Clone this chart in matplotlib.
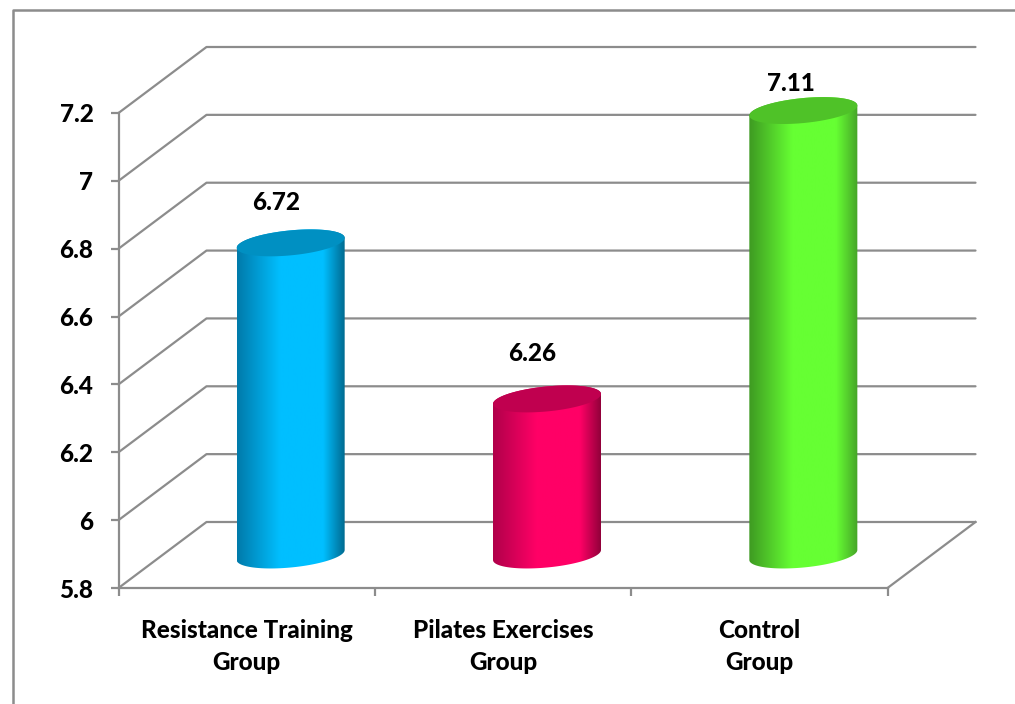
import matplotlib
matplotlib.use('Agg')
import matplotlib.pyplot as plt
import numpy as np
from matplotlib.colors import LinearSegmentedColormap
from matplotlib.lines import Line2D
from matplotlib.patches import PathPatch, Polygon
from matplotlib.path import Path

plt.rcParams['font.family'] = 'Lato'

# Values
categories = ['Resistance Training\nGroup', 'Pilates Exercises\nGroup', 'Control\nGroup']
values = [6.72, 6.26, 7.11]
value_labels = ['6.72', '6.26', '7.11']
y_ticks = [5.8, 6, 6.2, 6.4, 6.6, 6.8, 7, 7.2]
y_tick_labels = ['5.8', '6', '6.2', '6.4', '6.6', '6.8', '7', '7.2']

# (left edge, light middle, right edge, top face)
bar_colors = [
    ('#007AAA', '#00BFFF', '#006A90', '#0090C2'),
    ('#B0004A', '#FF0066', '#8C0038', '#C0004F'),
    ('#3E9A22', '#66FF33', '#46A428', '#4FC228'),
]
label_offsets = [(-15, 40), (-15, 45), (-12, 27)]  # pixels from the top face centre

GRAY = '#8C8C8C'
WEIGHT = 'black'
FONT_SIZE = 17.5
W, H = 1015, 704

fig = plt.figure(figsize=(W / 100, H / 100), dpi=100)
ax = fig.add_axes([118.5 / W, (H - 588) / H, 769 / W, 475 / H])
ax.set_xlim(0, 3)
ax.set_ylim(5.8, 7.2)

# size of one pixel in data units, and the depth of the 3D box
px_x = 3 / 769
px_y = 1.4 / 475
depth_x = 88 * px_x
depth_y = 66 * px_y

# back wall gridlines and the floor
for v in y_ticks:
    ax.plot([0, depth_x, 3 + depth_x], [v, v + depth_y, v + depth_y],
            color=GRAY, lw=1.6, clip_on=False, zorder=1, solid_capstyle='round')
ax.plot([3, 3 + depth_x], [5.8, 5.8 + depth_y], color=GRAY, lw=1.6, clip_on=False, zorder=1)


def ellipse(cx, cy, t):
    a = 54 * px_x
    b = 12.5 * px_y
    tilt = 5 * px_y
    return cx + a * np.cos(t), cy + b * np.sin(t) + tilt * np.cos(t)


for i, v in enumerate(values):
    edge1, mid, edge2, top = bar_colors[i]
    cx = i + 0.5 + depth_x / 2
    base = 5.8 + depth_y / 2
    roof = v + depth_y / 2

    # side of the cylinder: horizontal gradient clipped to the outline
    t_low = np.linspace(np.pi, 2 * np.pi, 60)
    t_up = np.linspace(0, np.pi, 60)
    xb, yb = ellipse(cx, base, t_low)
    xt, yt = ellipse(cx, roof, t_up)
    outline = Path(np.column_stack([np.r_[xb, xt], np.r_[yb, yt]]))
    patch = PathPatch(outline, fc='none', ec='none', zorder=2, clip_on=False)
    ax.add_patch(patch)
    cmap = LinearSegmentedColormap.from_list('side', [(0, edge1), (0.4, mid), (0.8, mid), (1, edge2)])
    im = ax.imshow(np.linspace(0, 1, 256).reshape(1, -1), cmap=cmap, aspect='auto',
                   extent=[cx - 54 * px_x, cx + 54 * px_x, base - 0.1, roof + 0.1],
                   zorder=2)
    im.set_clip_box(fig.bbox)
    im.set_clip_path(patch)

    # top face
    t_all = np.linspace(0, 2 * np.pi, 120)
    xr, yr = ellipse(cx, roof, t_all)
    ax.add_patch(Polygon(np.column_stack([xr, yr]), closed=True, fc=top, ec='none',
                         zorder=3, clip_on=False))

    ax.annotate(value_labels[i], (cx, roof), xytext=(label_offsets[i][0] * 0.72, label_offsets[i][1] * 0.72),
                textcoords='offset points', ha='center', va='center', annotation_clip=False,
                fontsize=FONT_SIZE, fontweight=WEIGHT, color='black', zorder=4)

ax.set_xlim(0, 3)
ax.set_ylim(5.8, 7.2)

for side in ['top', 'right']:
    ax.spines[side].set_visible(False)
for side in ['left', 'bottom']:
    ax.spines[side].set_color(GRAY)
    ax.spines[side].set_linewidth(1.6)
ax.patch.set_alpha(0)

ax.set_yticks(y_ticks)
ax.set_yticklabels(y_tick_labels, fontsize=FONT_SIZE, fontweight=WEIGHT)
ax.tick_params(axis='y', length=6, width=1.6, color=GRAY, pad=12)

ax.set_xticks([0, 1, 2, 3])
ax.set_xticklabels([])
ax.tick_params(axis='x', which='major', length=6, width=1.6, color=GRAY)
ax.set_xticks([0.5, 1.5, 2.5], minor=True)
ax.set_xticklabels(categories, minor=True, fontsize=FONT_SIZE, fontweight=WEIGHT, linespacing=1.5)
ax.tick_params(axis='x', which='minor', length=0, pad=22)

# outer chart frame, runs off the right and bottom edge
fig.add_artist(Line2D([13 / W, 13 / W, 1], [0, 1 - 10 / H, 1 - 10 / H], color=GRAY, lw=1.8))

fig.savefig('out.png', dpi=100)
